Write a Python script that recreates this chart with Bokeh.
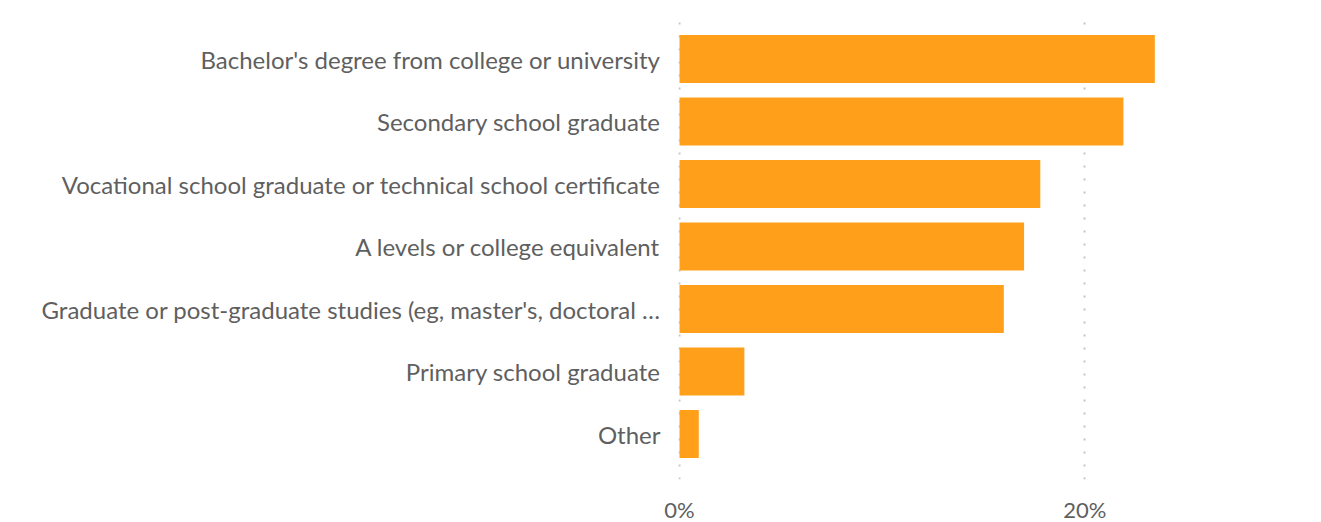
from bokeh.plotting import figure
from bokeh.models import FactorRange, FixedTicker, PrintfTickFormatter, Range1d
from bokeh.embed import file_html
from bokeh.resources import INLINE

categories = [
    "Bachelor's degree from college or university",
    "Secondary school graduate",
    "Vocational school graduate or technical school certificate",
    "A levels or college equivalent",
    "Graduate or post-graduate studies (eg, master's, doctoral …",
    "Primary school graduate",
    "Other",
]
values = [23.45, 21.9, 17.8, 17.0, 16.0, 3.2, 0.95]
x_ticks = [0, 20]

FONT = "Lato"
TEXT_COLOR = "#5f5f5f"
BAR_COLOR = "#FF9F1A"

yr = FactorRange(factors=list(reversed(categories)), range_padding=0.228,
                 range_padding_units="absolute")
p = figure(frame_width=634, frame_height=466, y_range=yr, x_range=Range1d(-0.05, 31.23),
           output_backend="svg", toolbar_location=None,
           min_border_left=678, min_border_right=0, min_border_top=13,
           min_border_bottom=40)

p.hbar(y=categories, right=values, left=0, height=0.768, color=BAR_COLOR, line_color=None)

p.outline_line_color = None
p.ygrid.grid_line_color = None
p.xgrid.ticker = FixedTicker(ticks=x_ticks)
p.xgrid.grid_line_color = "#c4c4c4"
p.xgrid.grid_line_dash = "2 11"
p.xgrid.grid_line_width = 2

p.xaxis.ticker = FixedTicker(ticks=x_ticks)
p.xaxis.formatter = PrintfTickFormatter(format="%d%%")
for ax in (p.xaxis[0], p.yaxis[0]):
    ax.axis_line_color = None
    ax.major_tick_line_color = None
    ax.minor_tick_line_color = None
    ax.major_tick_out = 0
    ax.major_tick_in = 0
    ax.major_label_text_font = FONT
    ax.major_label_text_color = TEXT_COLOR
p.yaxis.major_label_text_font_size = "24px"
p.xaxis.major_label_text_font_size = "22px"
p.xaxis.major_label_standoff = 16
p.yaxis.major_label_standoff = 18

open("out.html", "w").write(file_html(p, INLINE))
